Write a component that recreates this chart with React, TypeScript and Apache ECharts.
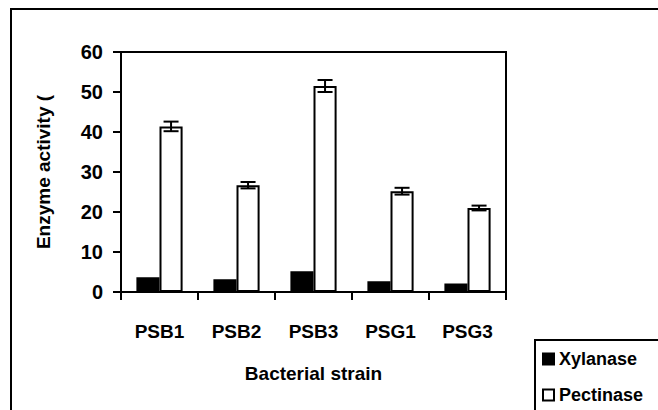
import React, { useEffect, useRef } from "react";
import * as echarts from "echarts";

const categories = ["PSB1", "PSB2", "PSB3", "PSG1", "PSG3"];
const xylanase = [3.7, 3.2, 5.2, 2.7, 2.1];
const pectinase = [41.4, 26.7, 51.5, 25.2, 21.0];
const pectinaseErr = [1.2, 0.8, 1.5, 0.85, 0.6];
const yMin = 0;
const yMax = 60;
const yInterval = 10;

const FONT = "'Liberation Sans', Arial, sans-serif";

export default function App() {
  const ref = useRef<HTMLDivElement>(null);
  useEffect(() => {
    if (!ref.current) return;
    const chart = echarts.init(ref.current, null, { renderer: "svg" });
    const errData = pectinase.map((v, i) => [i, v, pectinaseErr[i]]);
    chart.setOption({
      animation: false,
      backgroundColor: "#fff",
      textStyle: { fontFamily: FONT },
      graphic: [
        {
          type: "rect",
          shape: { x: 11, y: 9, width: 700, height: 500 },
          style: { fill: "none", stroke: "#000", lineWidth: 2 },
          silent: true,
        },
        {
          type: "rect",
          shape: { x: 535, y: 340, width: 200, height: 120 },
          style: { fill: "none", stroke: "#000", lineWidth: 2 },
          silent: true,
        },
      ],
      grid: {
        left: 121,
        top: 52,
        right: 152,
        bottom: 118,
        show: true,
        borderColor: "#000",
        borderWidth: 2,
        backgroundColor: "transparent",
      },
      legend: {
        orient: "vertical",
        left: 542,
        top: 350,
        padding: 0,
        itemGap: 18,
        itemWidth: 11,
        itemHeight: 11,
        itemTextGap: 6,
        icon: "rect",
        data: ["Xylanase", "Pectinase"],
        textStyle: {
          fontFamily: FONT,
          fontWeight: "bold",
          fontSize: 18,
          color: "#000",
        },
      },
      xAxis: {
        type: "category",
        data: categories,
        name: "Bacterial strain",
        nameLocation: "middle",
        nameGap: 72,
        nameTextStyle: {
          fontFamily: FONT,
          fontWeight: "bold",
          fontSize: 19,
          color: "#000",
        },
        axisLine: { lineStyle: { color: "#000", width: 2 } },
        axisTick: { show: true, length: 8, lineStyle: { color: "#000", width: 2 } },
        axisLabel: {
          margin: 30,
          fontFamily: FONT,
          fontWeight: "bold",
          fontSize: 19,
          color: "#000",
        },
      },
      yAxis: {
        type: "value",
        min: yMin,
        max: yMax,
        interval: yInterval,
        name: "Enzyme activity (",
        nameLocation: "middle",
        nameGap: 68,
        nameTextStyle: {
          fontFamily: FONT,
          fontWeight: "bold",
          fontSize: 19,
          color: "#000",
        },
        axisLine: { show: true, lineStyle: { color: "#000", width: 2 } },
        axisTick: { show: true, length: 8, lineStyle: { color: "#000", width: 2 } },
        splitLine: { show: false },
        axisLabel: {
          margin: 18,
          fontFamily: FONT,
          fontWeight: "bold",
          fontSize: 20,
          color: "#000",
        },
      },
      series: [
        {
          name: "Xylanase",
          type: "bar",
          data: xylanase,
          barGap: "0%",
          barCategoryGap: "40%",
          itemStyle: { color: "#000", borderColor: "#000", borderWidth: 2 },
        },
        {
          name: "Pectinase",
          type: "bar",
          data: pectinase,
          barGap: "0%",
          barCategoryGap: "40%",
          itemStyle: { color: "#fff", borderColor: "#000", borderWidth: 2 },
        },
        {
          name: "err",
          type: "custom",
          z: 10,
          data: errData,
          encode: { x: 0, y: 1 },
          renderItem: (params: any, api: any) => {
            const idx = api.value(0);
            const val = api.value(1);
            const err = api.value(2);
            const catW = api.size([1, 0])[0];
            const offset = catW * 0.15;
            const hi = api.coord([idx, val + err]);
            const lo = api.coord([idx, val - err]);
            const x = hi[0] + offset;
            const cap = 7.5;
            const style = { stroke: "#000", lineWidth: 2 };
            return {
              type: "group",
              children: [
                { type: "line", shape: { x1: x, y1: hi[1], x2: x, y2: lo[1] }, style },
                { type: "line", shape: { x1: x - cap, y1: hi[1], x2: x + cap, y2: hi[1] }, style },
                { type: "line", shape: { x1: x - cap, y1: lo[1], x2: x + cap, y2: lo[1] }, style },
              ],
            };
          },
        },
      ],
    });
    return () => chart.dispose();
  }, []);
  return (
    <div
      ref={ref}
      style={{ position: "fixed", left: 0, top: 0, width: 658, height: 410 }}
    />
  );
}
